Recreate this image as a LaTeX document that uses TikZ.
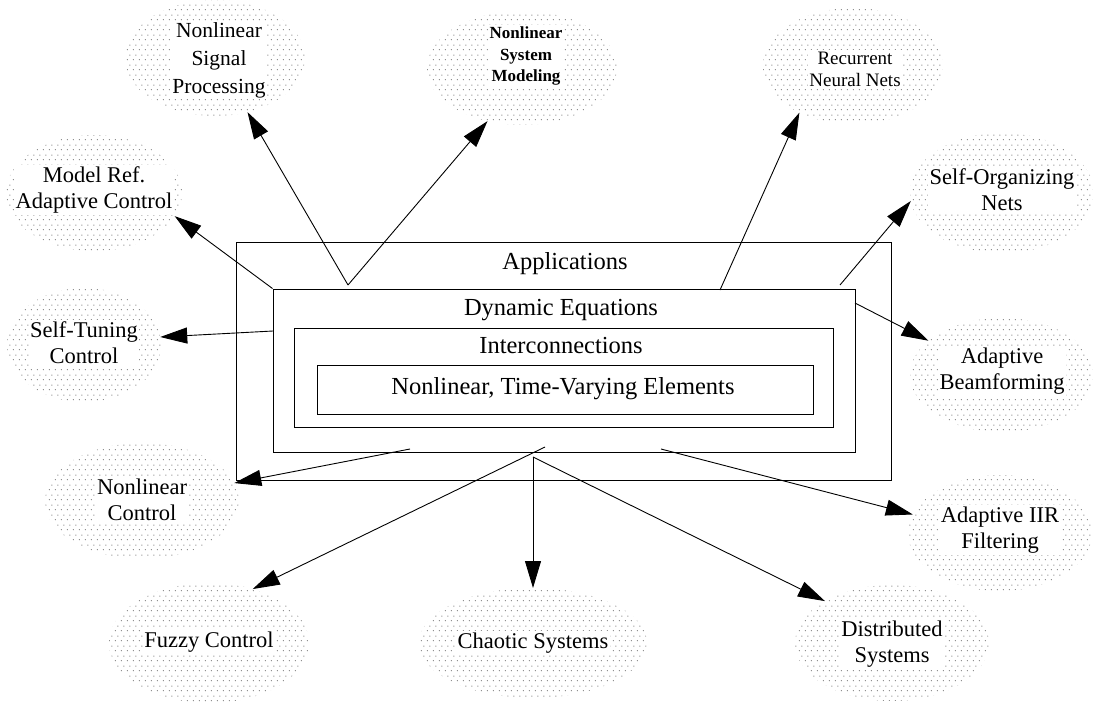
\documentclass[tikz,border=0pt]{standalone}
\usepackage{fontspec}
\setmainfont{Liberation Serif}
\usetikzlibrary{shapes.geometric,arrows.meta,patterns.meta}

\tikzdeclarepattern{
  name=sdots,
  type=uncolored,
  bottom left={(0pt,0pt)},
  top right={(6pt,10pt)},
  tile size={(6pt,10pt)},
  code={
    \pgfpathcircle{\pgfpoint{1.5pt}{2.5pt}}{0.6pt}
    \pgfpathcircle{\pgfpoint{4.5pt}{7.5pt}}{0.6pt}
    \pgfusepath{fill}
  }
}

\tikzset{
  ell/.style={ellipse, inner sep=0pt, outer sep=0pt, draw=none,
              pattern=sdots, pattern color=black!60},
  lbl/.style={fill=white, inner sep=1.5pt, align=center,
              font=\fontsize{22.5}{26}\selectfont},
  boxx/.style={draw, line width=1pt, rectangle, inner sep=0pt},
  boxlbl/.style={inner sep=0pt, font=\fontsize{24.5}{28}\selectfont},
  arr/.style={-{Triangle[length=27pt,width=16pt]}, line width=0.9pt}
}

\begin{document}
\begin{tikzpicture}[x=1pt,y=-1pt]
\useasboundingbox (0,0) rectangle (1093,702);

% ellipses
\node[ell, minimum width=180, minimum height=116] (nsp) at (215,58) {};
\node[ell, minimum width=190, minimum height=114] (nsm) at (522,68) {};
\node[ell, minimum width=180, minimum height=116] (rnn) at (853,66) {};
\node[ell, minimum width=176, minimum height=116] (mrac) at (94,193) {};
\node[ell, minimum width=154, minimum height=114] (stc) at (84,345) {};
\node[ell, minimum width=194, minimum height=116] (nlc) at (142,501) {};
\node[ell, minimum width=200, minimum height=120] (fzc) at (209,643) {};
\node[ell, minimum width=228, minimum height=110] (chs) at (533,643) {};
\node[ell, minimum width=194, minimum height=116] (dss) at (892,643) {};
\node[ell, minimum width=184, minimum height=116] (iir) at (1000,533) {};
\node[ell, minimum width=184, minimum height=114] (abf) at (1002,375) {};
\node[ell, minimum width=184, minimum height=120] (son) at (1002,193) {};

% ellipse labels
\node[lbl, font=\fontsize{21.5}{28}\selectfont] (tnsp) at (219,60) {Nonlinear\\Signal\\Processing};
\node[lbl, font=\fontsize{17}{21.5}\selectfont\bfseries] (tnsm) at (526,56) {Nonlinear\\System\\Modeling};
\node[lbl, font=\fontsize{19}{22}\selectfont] (trnn) at (855,69) {Recurrent\\Neural Nets};
\node[lbl] (tmrac) at (94,190) {Model Ref.\\Adaptive Control};
\node[lbl] (tstc) at (84,343) {Self-Tuning\\Control};
\node[lbl] (tnlc) at (142,500) {Nonlinear\\Control};
\node[lbl] (tfzc) at (209,642) {Fuzzy Control};
\node[lbl] (tchs) at (533,643) {Chaotic Systems};
\node[lbl] (tdss) at (892,644) {Distributed\\Systems};
\node[lbl] (tiir) at (1000,530) {Adaptive IIR\\Filtering};
\node[lbl] (tabf) at (1002,371) {Adaptive\\Beamforming};
\node[lbl] (tson) at (1002,190) {Self-Organizing\\Nets};

% nested boxes
\node[boxx, minimum width=655, minimum height=238] (app) at (563.5,361) {};
\node[boxx, minimum width=582, minimum height=163] (dyn) at (564,370.5) {};
\node[boxx, minimum width=539, minimum height=99] (icn) at (563.5,377.5) {};
\node[boxx, minimum width=496, minimum height=49] (nte) at (565,389.5) {};

\node[boxlbl] (tapp) at (565,264) {Applications};
\node[boxlbl] (tdyn) at (561,310) {Dynamic Equations};
\node[boxlbl] (ticn) at (561,346) {Interconnections};
\node[boxlbl] (tnte) at (563,389) {Nonlinear, Time-Varying Elements};

% connector start points
\coordinate (sA) at (348,285);
\coordinate (sR) at (720,290);
\coordinate (sS) at (840,285);
\coordinate (sB) at (855,303);
\coordinate (sT) at (273,331);
\coordinate (sN) at (410,449);
\coordinate (sF) at (545,447);
\coordinate (sC) at (533,457);
\coordinate (sI) at (661,449);

% connectors
\draw[arr] (sA) -- (nsp.-59.7);
\draw[arr] (sA) -- (nsm.-123);
\draw[arr] (sR) -- (rnn.221.2);
\draw[arr] (sS) -- (son.185.6);
\draw[arr] (sB) -- (abf.155);
\draw[arr] (dyn.north west) -- (mrac.-16.9);
\draw[arr] (sT) -- (stc.6.2);
\draw[arr] (sN) -- (nlc.11.3);
\draw[arr] (sF) -- (fzc.51.6);
\draw[arr] (sC) -- (chs.north);
\draw[arr] (sC) -- (dss.148);
\draw[arr] (sI) -- (iir.168.7);
\end{tikzpicture}
\end{document}
